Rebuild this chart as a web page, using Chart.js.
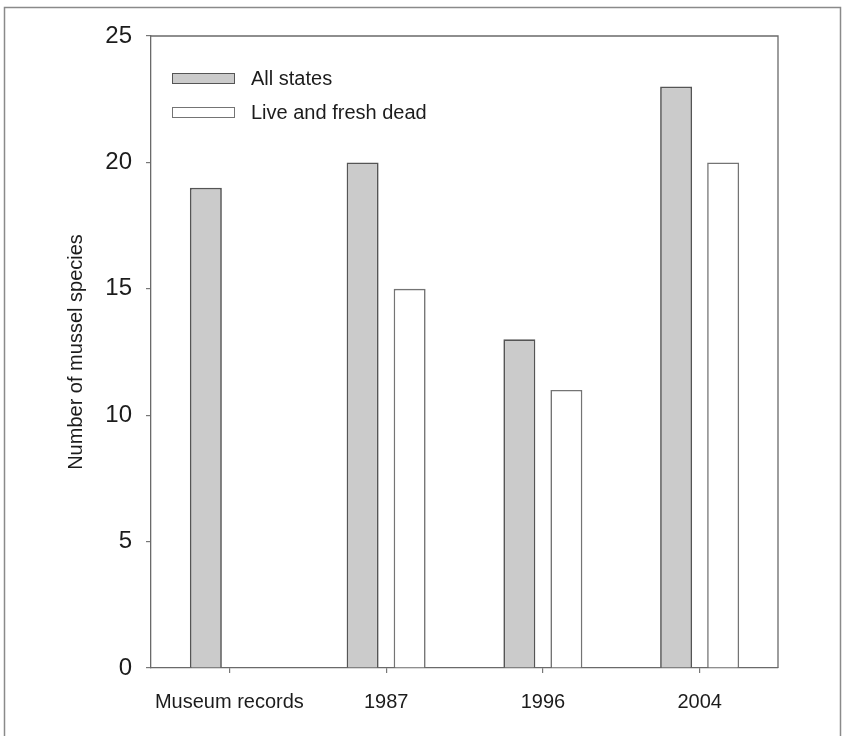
<!DOCTYPE html>
<html>
<head>
<meta charset="utf-8">
<script src="https://cdn.jsdelivr.net/npm/chart.js@4"></script>
<style>
html,body{margin:0;padding:0;background:#fff;}
#c{display:block;}
</style>
</head>
<body>
<canvas id="c" width="844" height="736"></canvas>
<script>
const categories = ['Museum records', '1987', '1996', '2004'];
const allStates = [19, 20, 13, 23];
const liveFreshDead = [null, 15, 11, 20];
const seriesNames = ['All states', 'Live and fresh dead'];
const yAxisTitle = 'Number of mussel species';

const FONT = '"Liberation Sans", Arial, Helvetica, sans-serif';
const TEXT = '#1c1c1c';

const framePlugin = {
  id: 'frame',
  afterDraw(chart) {
    const ctx = chart.ctx, a = chart.chartArea;
    ctx.save();
    // outer frame
    ctx.strokeStyle = '#8a8a8a';
    ctx.lineWidth = 1.5;
    ctx.beginPath();
    ctx.moveTo(4.5, 745); ctx.lineTo(4.5, 7.5); ctx.lineTo(840.5, 7.5); ctx.lineTo(840.5, 745);
    ctx.stroke();
    // plot box top & right
    ctx.strokeStyle = '#6a6a6a';
    ctx.lineWidth = 1.3;
    ctx.beginPath();
    ctx.moveTo(a.left, a.top); ctx.lineTo(a.right, a.top); ctx.lineTo(a.right, a.bottom);
    ctx.stroke();
    // legend
    const ds = chart.data.datasets;
    const bx = 172, bw = 62, bh = 10;
    const rows = [78, 112];
    ctx.font = '20px ' + FONT;
    ctx.textBaseline = 'middle';
    ctx.textAlign = 'left';
    ds.forEach((d, i) => {
      const y = rows[i];
      ctx.fillStyle = d.backgroundColor;
      ctx.fillRect(bx, y - bh / 2, bw, bh);
      ctx.strokeStyle = d.borderColor;
      ctx.lineWidth = 1;
      ctx.strokeRect(bx + 0.5, y - bh / 2 + 0.5, bw, bh);
      ctx.fillStyle = TEXT;
      ctx.fillText(d.label, 251, y + 1);
    });
    ctx.restore();
  }
};

new Chart(document.getElementById('c'), {
  type: 'bar',
  data: {
    labels: categories,
    datasets: [
      { label: seriesNames[0], data: allStates, backgroundColor: '#cbcbcb', borderColor: '#555555', borderWidth: 1.7, borderSkipped: 'start' },
      { label: seriesNames[1], data: liveFreshDead, backgroundColor: '#ffffff', borderColor: '#747474', borderWidth: 1.6, borderSkipped: 'start' }
    ]
  },
  options: {
    responsive: false,
    animation: false,
    devicePixelRatio: 1,
    layout: { padding: { left: 0, top: 36, right: 66, bottom: 0 } },
    datasets: { bar: { categoryPercentage: 0.6, barPercentage: 0.68 } },
    plugins: { legend: { display: false }, tooltip: { enabled: false } },
    scales: {
      x: {
        grid: { offset: false, drawOnChartArea: false, drawTicks: true, tickLength: 5, color: '#777', lineWidth: 1.2 },
        border: { display: true, color: '#6a6a6a', width: 1.3 },
        ticks: { font: { family: FONT, size: 20 }, color: TEXT, padding: 17, maxRotation: 0, autoSkip: false },
        afterFit(s) { s.height = 68; }
      },
      y: {
        min: 0, max: 25,
        grid: { drawOnChartArea: false, drawTicks: true, tickLength: 5, color: '#777', lineWidth: 1.2 },
        border: { display: true, color: '#6a6a6a', width: 1.3 },
        ticks: { stepSize: 5, font: { family: FONT, size: 24 }, color: TEXT, padding: 14 },
        title: { display: true, text: yAxisTitle, font: { family: FONT, size: 20 }, color: TEXT, padding: { top: 64, bottom: 0 } },
        afterFit(s) { s.width = 151; }
      }
    }
  },
  plugins: [framePlugin]
});
</script>
</body>
</html>
